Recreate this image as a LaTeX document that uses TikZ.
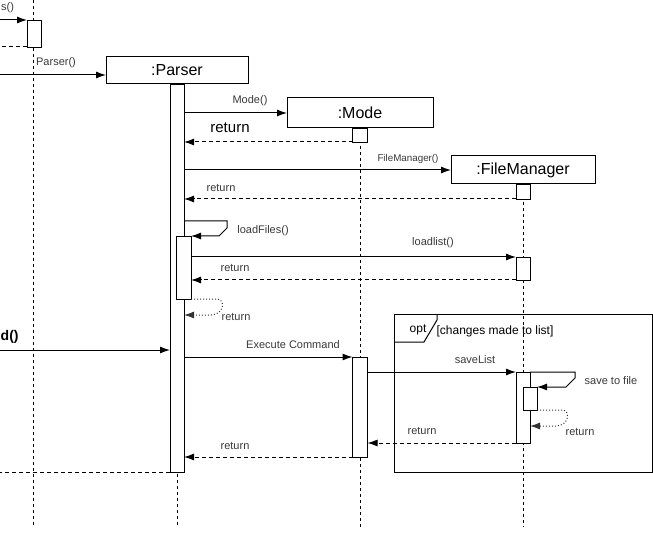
\documentclass[tikz,border=0pt]{standalone}
\usepackage{fontspec}
\setmainfont{Liberation Sans}
\usetikzlibrary{arrows.meta}

\begin{document}
\begin{tikzpicture}[
 x=1pt, y=-1pt,
 box/.style={draw, rectangle, fill=white, line width=1pt, inner sep=0pt, outer sep=0pt, font=\fontsize{16}{18}\selectfont},
 act/.style={draw, rectangle, fill=white, line width=0.9pt, inner sep=0pt, outer sep=0pt, minimum width=14pt},
 lifeline/.style={line width=0.9pt, dash pattern=on 3pt off 3pt},
 lbl/.style={inner sep=0pt, text=black!78, font=\fontsize{11}{12}\selectfont},
 arrow/.style={-{Latex[length=10pt,width=7pt]}, line width=1pt},
 retarrow/.style={arrow, dash pattern=on 4pt off 3pt},
 selfret/.style={arrow, dotted, draw=black!80}
]
\useasboundingbox (0,0) rectangle (653,537);

% ライフラインの頭
\node[box, minimum width=142pt, minimum height=27pt] (parser) at (177,70.5) {:Parser};
\node[box, minimum width=146pt, minimum height=30pt] (mode) at (360,113) {:Mode};
\node[box, minimum width=144pt, minimum height=28pt] (fm) at (523,170) {:FileManager};

% ライフライン
\draw[lifeline] (33,0) -- (33,527);
\draw[lifeline] (parser.south) -- (177,527);
\draw[lifeline] (mode.south) -- (360,527);
\draw[lifeline] (fm.south) -- (523,527);

% 実行仕様
\node[act, minimum height=27pt] (leftAct) at (34,33.5) {};
\node[act, minimum height=388pt] (parserAct) at (177,278) {};
\node[act, minimum width=15pt, minimum height=14pt] (modeAct1) at (360,135) {};
\node[act, minimum height=15pt] (fmAct1) at (523,191.5) {};
\node[act, minimum width=15pt, minimum height=63pt] (parserAct2) at (183.5,267.5) {};
\node[act, minimum height=23pt] (fmAct2) at (523,268.5) {};
\node[act, minimum width=15pt, minimum height=100pt] (modeAct2) at (360,407) {};
\node[act, minimum height=71pt] (fmAct3) at (523,407.5) {};
\node[act, minimum height=23pt] (fmAct4) at (530,398.5) {};

% optフレーム
\draw[line width=1pt] (394,314) rectangle (652,472);
\draw[line width=1pt] (437,314) -- (437,320) -- (424,342) -- (394,342);
\node[lbl, text=black, font=\fontsize{12}{13}\selectfont] (optTag) at (418,330) {opt};
\node[lbl, text=black, font=\fontsize{12}{13}\selectfont] (optGuard) at (495,331) {[changes made to list]};

% 外から来るメッセージ
\coordinate (inS) at (0,20);
\coordinate (outS) at (0,47);
\coordinate (inP) at (0,75);
\coordinate (inD) at (0,350);
\coordinate (outD) at (0,472);

% 矢印
\draw[arrow] (inS) -- (leftAct.north west);
\node[lbl, anchor=west] (sLbl) at (1,8) {s()};
\draw[line width=1pt, dash pattern=on 4pt off 3pt] (leftAct.south west) -- (outS);

\draw[arrow] (inP) -- (inP -| parser.west);
\node[lbl] (parserLbl) at (56,63) {Parser()};

\draw[arrow] (parserAct.east |- mode.west) -- (mode.west);
\node[lbl] (modeLbl) at (250,101) {Mode()};
\draw[retarrow] (modeAct1.south west) -- (parserAct.east |- modeAct1.south);
\node[lbl, text=black, font=\fontsize{15}{16}\selectfont] (ret1) at (230,128) {return};

\draw[arrow] (parserAct.east |- fm.west) -- (fm.west);
\node[lbl, font=\fontsize{9.8}{11}\selectfont] (fmLbl) at (408,159) {FileManager()};
\draw[retarrow] (fmAct1.south west) -- (parserAct.east |- fmAct1.south);
\node[lbl] (ret2) at (221,188) {return};

\draw[arrow] (parserAct.east |- 0,221) -- (227,221) -- (227,228) -- (219,236) -- (parserAct2.north east);
\node[lbl] (loadFilesLbl) at (263,231) {loadFiles()};

\draw[arrow] (parserAct2.east |- fmAct2.north) -- (fmAct2.north west);
\node[lbl] (loadlistLbl) at (433,243) {loadlist()};
\draw[retarrow] (fmAct2.south west) -- (parserAct2.east |- fmAct2.south);
\node[lbl] (ret3) at (235,268) {return};

\draw[selfret] (parserAct2.south east) -- (217,299) .. controls (226,299) and (224,315) .. (211,315) -- (parserAct.east |- 0,315);
\node[lbl] (ret4) at (236,317) {return};

\draw[arrow] (inD) -- (inD -| parserAct.west);
\node[lbl, anchor=west, text=black, font=\fontsize{14}{15}\selectfont\bfseries] (dLbl) at (0.5,337) {d()};

\draw[arrow] (parserAct.east |- modeAct2.north) -- (modeAct2.north west);
\node[lbl] (execLbl) at (293,345) {Execute Command};

\draw[arrow] (modeAct2.east |- fmAct3.north) -- (fmAct3.north west);
\node[lbl] (saveListLbl) at (475,360) {saveList};

\draw[arrow] (fmAct3.north east) -- (575,372) -- (575,378) -- (566,387) -- (fmAct4.north east);
\node[lbl] (saveFileLbl) at (611,381) {save to file};

\draw[selfret] (fmAct4.south east) -- (562,410) .. controls (571,410) and (569,426) .. (556,426) -- (fmAct3.east |- 0,426);
\node[lbl] (ret5) at (580,432) {return};

\draw[retarrow] (fmAct3.south west) -- (modeAct2.east |- fmAct3.south);
\node[lbl] (ret6) at (422,431) {return};

\draw[retarrow] (modeAct2.south west) -- (parserAct.east |- modeAct2.south);
\node[lbl] (ret7) at (235,446) {return};

\draw[line width=1pt, dash pattern=on 4pt off 3pt] (parserAct.south west) -- (outD);

\end{tikzpicture}
\end{document}
